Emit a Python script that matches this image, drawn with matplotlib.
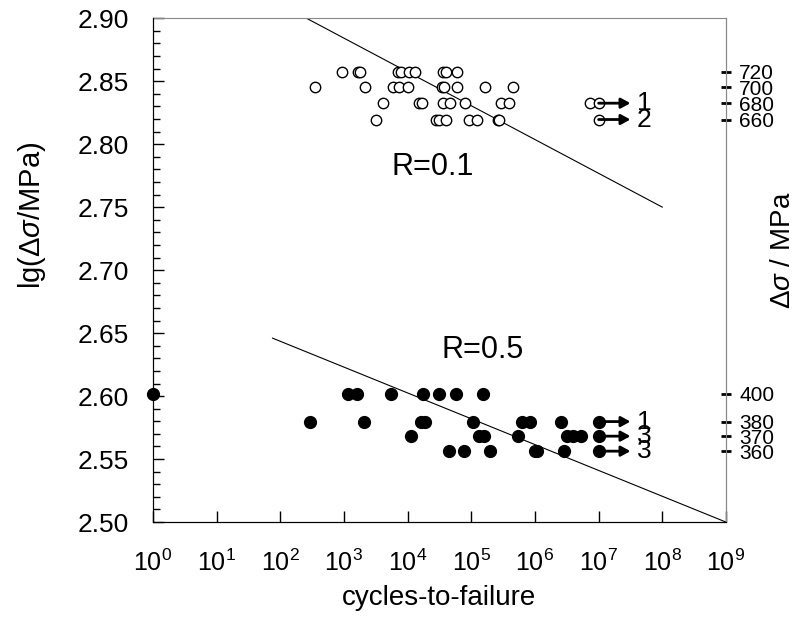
import numpy as np
import matplotlib.pyplot as plt

plt.rcParams['font.family'] = 'Liberation Sans'
plt.rcParams['mathtext.fontset'] = 'custom'
plt.rcParams['mathtext.rm'] = 'Liberation Sans'
plt.rcParams['mathtext.it'] = 'Liberation Sans:italic'

# lg(cycles) for each stress level, R=0.1 (open circles)
r01_720 = [2.97, 3.22, 3.25, 3.85, 3.90, 4.02, 4.12, 4.56, 4.60, 4.77]
r01_700 = [2.55, 3.33, 3.77, 3.87, 4.00, 4.54, 4.57, 4.77, 5.21, 5.65]
r01_680 = [3.62, 4.18, 4.22, 4.55, 4.67, 4.90, 5.46, 5.60, 6.87, 7.00]
r01_660 = [3.51, 4.44, 4.50, 4.60, 4.96, 5.09, 5.42, 5.43, 7.00]

# lg(cycles), R=0.5 (filled circles)
r05_400 = [0.00, 3.06, 3.21, 3.74, 4.24, 4.50, 4.76, 5.18]
r05_380 = [2.47, 3.32, 4.21, 4.27, 5.03, 5.80, 5.93, 6.41, 7.00]
r05_370 = [4.06, 5.12, 5.20, 5.74, 6.50, 6.60, 6.73, 7.00]
r05_360 = [4.65, 4.88, 5.30, 6.00, 6.03, 6.45, 7.00]

# run-outs (10^7 cycles): stress, number of specimens
runout_stress = [680, 660, 380, 370, 360]
runout_count = ['1', '2', '1', '3', '3']

# fitted lines (lg N, lg stress)
fit01_lgN = [2.0, 8.0]
fit01_lgS = [2.911, 2.75]
fit05_lgN = [1.88, 9.0]
fit05_lgS = [2.646, 2.50]

right_ticks = [720, 700, 680, 660, 400, 380, 370, 360]

fig = plt.figure(figsize=(7.96, 6.26), dpi=100)
ax = fig.add_axes([0.192, 0.166, 0.720, 0.805])

for s, lgN in [(720, r01_720), (700, r01_700), (680, r01_680), (660, r01_660)]:
    ax.plot(10**np.array(lgN), [np.log10(s)] * len(lgN), 'o', mfc='white',
            mec='black', ms=7.5, mew=1.0, clip_on=False, zorder=3)
for s, lgN in [(400, r05_400), (380, r05_380), (370, r05_370), (360, r05_360)]:
    ax.plot(10**np.array(lgN), [np.log10(s)] * len(lgN), 'o', color='black',
            ms=8.5, clip_on=False, zorder=3)

ax.plot(10**np.array(fit01_lgN), fit01_lgS, color='black', lw=0.8)
ax.plot(10**np.array(fit05_lgN), fit05_lgS, color='black', lw=0.8)

for s, c in zip(runout_stress, runout_count):
    y = np.log10(s)
    ax.annotate('', xy=(10**7.5, y), xytext=(1e7, y),
                arrowprops=dict(arrowstyle='-|>,head_length=0.55,head_width=0.3',
                                color='black', lw=2, shrinkA=0, shrinkB=0))
    ax.text(10**7.6, y, c, fontsize=19, va='center', ha='left')

ax.text(10**4.4, 2.782, 'R=0.1', fontsize=22, ha='center', va='center')
ax.text(10**5.18, 2.6365, 'R=0.5', fontsize=22, ha='center', va='center')

ax.set_xscale('log')
ax.set_xlim(1, 1e9)
ax.set_ylim(2.5, 2.9)
ax.set_xticks([10**i for i in range(10)])
ax.set_yticks(np.arange(2.5, 2.901, 0.05))
ax.set_yticklabels(['%.2f' % v for v in np.arange(2.5, 2.901, 0.05)])
ax.yaxis.set_minor_locator(plt.MultipleLocator(0.01))
ax.tick_params(axis='both', which='major', direction='in', length=8, width=1)
ax.tick_params(axis='both', which='minor', direction='in', length=5, width=1)
ax.tick_params(axis='x', labelsize=18, pad=20)
ax.tick_params(axis='y', right=False, labelsize=19, pad=17)
ax.set_xlabel('cycles-to-failure', fontsize=20, va='center')
ax.xaxis.set_label_coords(0.5, -0.151)
ax.set_ylabel(r'lg($\Delta\sigma$/MPa)', fontsize=21, va='center')
ax.yaxis.set_label_coords(-0.211, 0.609)
ax.spines['top'].set_color('#888888')
ax.spines['right'].set_color('#888888')

ax2 = ax.twinx()
ax2.set_ylim(ax.get_ylim())
ax2.set_yticks(np.log10(right_ticks))
ax2.set_yticklabels([str(v) for v in right_ticks])
ax2.tick_params(axis='y', direction='inout', length=7, width=2, labelsize=15, pad=6)
ax2.spines['right'].set_color('#888888')
ax2.spines['top'].set_visible(False)
ax2.set_ylabel(r'$\Delta\sigma$ / MPa', fontsize=20, va='center')
ax2.yaxis.set_label_coords(1.0995, 0.54)

fig.savefig('out.png', dpi=100)
